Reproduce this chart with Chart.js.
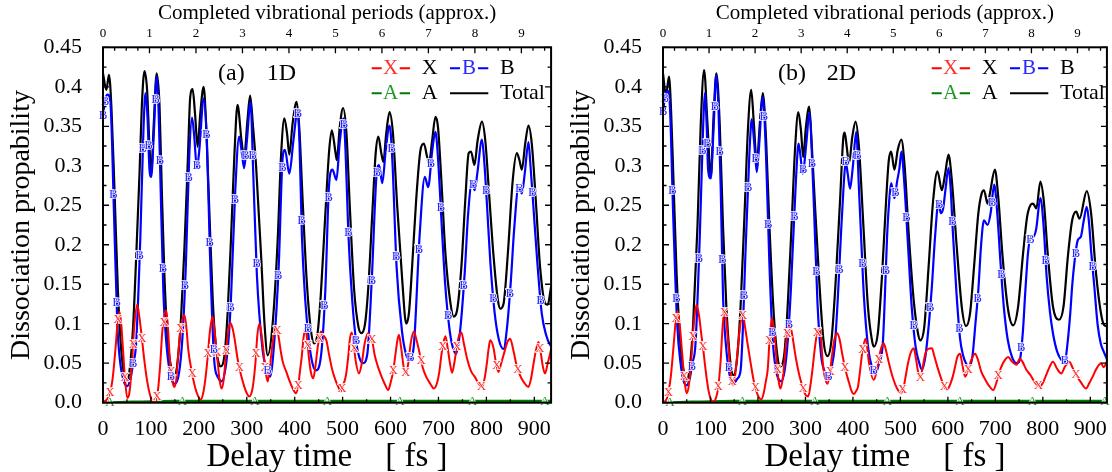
<!DOCTYPE html>
<html>
<head>
<meta charset="utf-8">
<script src="https://cdn.jsdelivr.net/npm/chart.js@4.4.1/dist/chart.umd.min.js"></script>
<style>
body { margin: 0; background: #fff; }
#wrap { position: relative; width: 1112px; height: 472px; }
canvas { position: absolute; top: 0; }
#c1 { left: 0; }
#c2 { left: 556px; }
</style>
</head>
<body>
<div id="wrap">
<canvas id="c1" width="556" height="472"></canvas>
<canvas id="c2" width="556" height="472"></canvas>
</div>
<script>
// axis ranges
const xMax = 935        // fs
const periodFs = 97     // fs per vibrational period (top axis)
const yMax = 0.45

// ---- panel (a) 1D : [delay fs, probability]
const total1D = [[0,.417],[7,.396],[12.5,.415],[17.5,.375],[24,.269],[31,.143],[38,.067],[45,.033],[50.6,.028],[55.4,.041],[62.4,.092],[69.3,.185],[76.2,.290],[81,.375],[86.6,.420],[92,.396],[97,.324],[100.5,.290],[106,.354],[112,.417],[118,.375],[122.7,.269],[128,.164],[135,.079],[143.5,.041],[149,.035],[156,.054],[163,.109],[170,.197],[177,.307],[182,.387],[187,.397],[192,.366],[197.5,.324],[203,.366],[210,.400],[215,.354],[222,.240],[229,.130],[235.6,.071],[242.5,.048],[246,.046],[253,.058],[260,.113],[267,.206],[274,.311],[280.7,.377],[289,.332],[294.5,.311],[301.5,.358],[307,.389],[313,.350],[319.5,.299],[330,.185],[337,.100],[343.7,.060],[354,.100],[364.5,.206],[371.4,.311],[378.4,.360],[384,.341],[388.8,.314],[395.7,.354],[404,.381],[409.5,.349],[416.5,.257],[425,.155],[433.8,.092],[440.7,.075],[447.7,.088],[454.6,.138],[463.6,.235],[472,.320],[477.5,.345],[484.4,.320],[487.9,.307],[494,.349],[501,.373],[508,.341],[515,.248],[524,.143],[533,.096],[539,.088],[546.8,.100],[553.7,.147],[562,.240],[569,.316],[574.5,.337],[580.7,.316],[585,.305],[591,.341],[598,.368],[605,.341],[614,.248],[624.4,.155],[632.7,.100],[638.3,.113],[645,.172],[653.5,.257],[662.5,.320],[669.5,.328],[676.4,.311],[680,.303],[686.8,.332],[693.7,.362],[699,.349],[706,.282],[714.5,.189],[725,.126],[731.8,.109],[738.8,.117],[747.8,.172],[756,.257],[763,.316],[768,.318],[775,.301],[781.7,.332],[790.7,.356],[797.7,.332],[806,.261],[815,.185],[824,.130],[829,.119],[836,.126],[844.8,.189],[855,.282],[863.5,.316],[869,.307],[874,.295],[881,.328],[887.8,.351],[894.7,.328],[903,.257],[912,.172],[922.4,.126],[928,.124],[935,.147]]

const b1D = [[0,.364],[5,.385],[10,.39],[16,.375],[23,.238],[30,.098],[36,.05],[43,.028],[50.6,.021],[57,.03],[63,.05],[69,.074],[78,.211],[84.5,.347],[88.7,.392],[93,.36],[97,.295],[100.5,.286],[106,.34],[112,.413],[116,.37],[120,.278],[126,.14],[133,.07],[142,.032],[150.4,.024],[159,.039],[166,.085],[173,.176],[180,.313],[185.7,.361],[190,.34],[196,.297],[201,.32],[210,.385],[217,.328],[223,.192],[232,.054],[240,.032],[248,.027],[256,.045],[262,.08],[267,.131],[276,.269],[284,.337],[289,.32],[294.5,.297],[300,.33],[308,.381],[313,.30],[321,.163],[333,.067],[340,.045],[348.6,.033],[357.6,.079],[366.6,.172],[375,.311],[379.7,.32],[388.8,.29],[397,.33],[406,.37],[410,.33],[415,.212],[422,.13],[430.3,.075],[437,.05],[444,.041],[454.6,.058],[463.6,.138],[472,.278],[478.8,.295],[487,.282],[494,.33],[501.7,.36],[506,.32],[512,.214],[520,.13],[528.7,.075],[535,.057],[542.6,.05],[551.6,.062],[560.6,.153],[571,.29],[576,.301],[582.8,.278],[590,.32],[598,.351],[603.6,.309],[612.6,.172],[624,.09],[632,.062],[639.7,.054],[648.7,.073],[660.5,.21],[671.6,.286],[678.5,.273],[686.8,.318],[693.7,.343],[699,.31],[706.2,.231],[714,.15],[722.8,.094],[729,.072],[736.7,.062],[745,.09],[754.7,.164],[762,.24],[770,.28],[775.5,.269],[781,.29],[790.7,.333],[795,.31],[801,.253],[808,.18],[817,.115],[826,.08],[835.8,.068],[843,.095],[851,.154],[858,.22],[867,.273],[874,.265],[880,.29],[887.8,.33],[892,.3],[898,.249],[906,.18],[915.5,.113],[925,.085],[933,.073],[935,.072]]

const x1D = [[0,.001],[8,.004],[14,.011],[20,.03],[26,.068],[31,.105],[34.6,.115],[38,.1],[42,.065],[46,.03],[50.6,.006],[55,.012],[60,.045],[65,.095],[71.4,.124],[76,.108],[80,.088],[86,.055],[92,.028],[98,.01],[104,.001],[109,0],[114,.012],[119,.045],[124,.092],[131.7,.117],[135,.1],[139,.06],[144,.03],[149,.02],[153,.03],[157,.062],[163,.098],[170,.111],[174,.095],[178,.067],[185,.04],[192,.02],[198,.009],[204,.004],[209,.012],[213,.027],[218,.055],[223,.09],[228.7,.109],[233,.09],[238,.06],[243,.03],[247.4,.018],[252,.03],[257,.065],[261,.09],[265.4,.101],[270,.095],[274,.083],[281,.055],[288,.035],[295,.02],[300,.012],[305,.008],[312,.018],[318,.05],[322,.085],[326.4,.1],[330,.09],[334,.07],[339,.04],[343.7,.027],[347,.04],[350,.055],[355,.08],[361,.096],[366,.085],[371,.065],[375,.052],[382,.04],[389,.028],[396,.018],[402.6,.012],[407,.02],[411,.04],[415,.06],[418,.08],[422,.094],[426,.08],[430,.055],[434,.038],[438.7,.031],[443,.045],[448,.07],[454.6,.09],[460,.085],[466,.079],[472,.06],[479,.04],[486,.027],[491,.02],[496,.014],[501,.022],[507,.035],[512,.06],[515,.08],[519,.089],[523,.075],[527,.054],[534.3,.037],[540,.05],[546,.075],[553,.088],[557,.085],[561,.081],[567,.06],[574,.045],[580,.035],[587,.025],[595.3,.016],[600,.025],[605,.038],[610,.06],[614,.078],[617.5,.086],[622,.07],[628,.043],[632.7,.037],[637,.05],[642,.075],[648.7,.09],[654,.08],[660.5,.063],[667,.045],[675,.032],[683,.024],[690.3,.018],[697,.025],[702,.04],[706,.06],[710,.075],[714.5,.084],[719,.07],[724,.05],[728.4,.038],[733,.05],[738,.07],[743,.085],[747.8,.089],[753,.075],[760,.055],[768,.04],[775.5,.033],[783,.025],[790.7,.02],[796,.03],[801,.05],[805,.07],[808,.079],[815,.069],[820,.05],[825.4,.039],[831,.05],[838,.065],[844,.077],[849.7,.081],[855,.07],[862,.05],[870,.035],[878,.026],[887.8,.02],[893,.03],[898,.048],[903,.065],[908.6,.077],[913,.065],[918,.045],[922.4,.037],[928,.05],[933,.062],[935,.068]]

const a1D = [[0,0],[60,.001],[150,.002],[300,.002],[450,.002],[600,.002],[750,.002],[935,.002]]

// ---- panel (b) 2D
const total2D = [[0,.417],[6.3,.389],[12.6,.413],[17,.37],[21.6,.290],[28.6,.164],[37.7,.067],[46,.033],[49.6,.028],[56.6,.046],[63.5,.100],[72.6,.223],[79.6,.354],[86.6,.421],[93.6,.354],[100.6,.286],[106.8,.366],[112.4,.417],[119.4,.354],[126.4,.223],[133.4,.122],[142.5,.048],[148.7,.035],[155.7,.054],[163.4,.122],[171.8,.240],[178.8,.345],[185.8,.396],[191.3,.354],[197.6,.303],[204,.354],[210.2,.392],[217.2,.332],[224.2,.223],[233.2,.113],[241.6,.056],[247.2,.046],[255.6,.062],[262.6,.122],[271,.227],[278,.320],[285,.368],[290.5,.345],[295.4,.311],[301,.349],[308,.375],[313,.33],[318.4,.269],[329,.155],[338,.079],[346.4,.059],[354.8,.079],[363.8,.155],[373,.257],[380,.337],[382.7,.342],[387,.324],[391.8,.303],[398.8,.337],[405.7,.356],[412.7,.324],[421.8,.227],[431.6,.122],[440.7,.077],[444.1,.071],[452.5,.088],[461.6,.164],[470,.257],[475.6,.307],[480.5,.318],[487.4,.295],[494.4,.320],[502,.333],[509,.299],[517.5,.214],[528,.130],[537,.088],[542,.079],[550.3,.096],[559.4,.172],[568.4,.252],[578,.293],[587.3,.269],[594.3,.290],[601.3,.314],[608.3,.282],[618.7,.197],[629.5,.120],[638.3,.097],[646.7,.113],[655.1,.172],[664.2,.240],[671.2,.265],[676,.269],[683.7,.252],[688.6,.265],[699,.295],[706,.261],[715.2,.185],[727,.117],[737.5,.098],[748,.122],[758.4,.189],[766.8,.235],[773.8,.250],[779.4,.252],[786.4,.246],[794.8,.280],[801.7,.257],[810.8,.185],[821.3,.122],[833.9,.105],[843.6,.122],[852.7,.185],[861.8,.231],[870.2,.242],[877.2,.233],[892.5,.268],[901.6,.240],[912,.164],[922.5,.113],[929.5,.098],[935,.097]]

const b2D = [[0,.368],[5,.39],[10,.395],[14.7,.373],[21.6,.235],[30,.098],[37,.05],[43,.028],[49.6,.022],[56,.03],[62,.05],[68.4,.074],[77.5,.211],[84.5,.349],[88,.392],[92,.35],[95,.295],[100.6,.284],[106,.34],[112.4,.415],[117,.37],[121.5,.273],[126.4,.136],[133,.07],[141,.033],[148.7,.024],[156,.03],[163.4,.041],[168,.09],[173,.178],[182,.316],[187,.359],[192,.33],[197.6,.292],[201.8,.32],[210.2,.387],[217,.313],[224,.178],[231,.08],[238,.041],[243,.03],[248.6,.027],[256,.04],[263,.08],[269.5,.145],[280,.282],[285.6,.328],[290,.31],[294,.29],[302.4,.332],[308,.367],[317,.263],[325.4,.126],[333,.06],[340,.04],[347.8,.032],[355,.045],[361.7,.071],[368,.13],[374.3,.207],[380,.27],[384.8,.305],[389,.29],[393.9,.271],[400,.3],[407,.343],[412.7,.271],[418,.2],[423.2,.134],[432,.07],[440,.045],[447.6,.037],[455,.05],[463,.075],[467,.13],[472,.211],[477,.26],[480.5,.278],[487.4,.259],[493,.28],[498,.297],[502,.318],[508,.28],[515.4,.206],[524,.12],[532,.071],[539,.052],[545.4,.042],[553,.06],[560,.1],[566.4,.148],[573,.21],[580.3,.254],[585,.24],[590,.246],[595,.27],[601.3,.297],[606,.27],[610.3,.218],[618,.14],[625.7,.081],[632,.06],[638,.05],[645.3,.046],[652,.06],[658,.1],[664.2,.143],[670,.2],[676,.231],[683.7,.225],[690,.24],[697.7,.276],[704,.24],[711,.176],[718,.12],[726,.08],[735,.058],[744.5,.05],[751.5,.054],[758,.09],[763,.14],[769,.191],[775,.21],[779.4,.21],[786,.22],[794.8,.259],[801.7,.223],[808,.16],[815,.115],[821.3,.088],[830,.065],[838,.055],[845.7,.05],[852,.075],[858,.115],[861.8,.148],[867,.18],[873.7,.206],[880,.21],[886,.23],[892.5,.248],[897,.23],[902,.19],[908,.15],[915.6,.098],[922,.075],[928,.065],[935,.055]]

const x2D = [[0,0],[8,.005],[12,.015],[16.8,.035],[22,.07],[27,.105],[30.7,.116],[35,.1],[40,.065],[45,.03],[49.6,.012],[54,.02],[59,.05],[65,.1],[70.5,.124],[76,.11],[80,.09],[84.5,.069],[90,.04],[96,.015],[101,.004],[105.4,.001],[111,.005],[116,.018],[121,.05],[126,.1],[130,.117],[134,.1],[138,.07],[143,.035],[147.3,.022],[152,.035],[157,.065],[163,.1],[168.3,.111],[173,.095],[178,.075],[184.4,.051],[191,.028],[198,.012],[206.7,.004],[212,.012],[216,.025],[220.7,.043],[225,.085],[229.7,.107],[234,.09],[239,.055],[243,.03],[247.2,.018],[252,.03],[257,.06],[262,.09],[266,.098],[271,.09],[275,.075],[280,.056],[287,.035],[295,.018],[300,.01],[305.9,.008],[310,.02],[315,.043],[320,.07],[325,.09],[329,.094],[333,.08],[336,.055],[340,.035],[346.4,.024],[351,.035],[356,.06],[361,.08],[367.3,.088],[372,.08],[378,.06],[385,.04],[392,.025],[397,.015],[402.2,.011],[407,.015],[410.6,.02],[415,.04],[420,.065],[426.7,.081],[430,.07],[433.7,.051],[444.1,.029],[450,.04],[456,.06],[460,.07],[465,.075],[469,.068],[472,.06],[478,.045],[485,.03],[493,.018],[501.4,.012],[507,.02],[511,.033],[515.4,.048],[521,.062],[528,.069],[533,.055],[537,.04],[542,.032],[547,.045],[552.4,.062],[558,.068],[566.4,.069],[571,.06],[578,.045],[585,.032],[591,.022],[597.8,.016],[604,.022],[610.3,.033],[615,.045],[620,.058],[625.7,.062],[630,.05],[636.2,.033],[642,.04],[648,.052],[657.2,.062],[663,.055],[670,.04],[678,.03],[686,.022],[695.6,.016],[702,.025],[708,.038],[715.2,.049],[721,.055],[727,.058],[735,.052],[744.5,.048],[751.5,.056],[757,.052],[765,.042],[773.8,.035],[783,.026],[793.4,.02],[800,.025],[807,.035],[814,.045],[821.3,.052],[830,.043],[838.8,.037],[846,.045],[856,.052],[862,.045],[870,.035],[880,.026],[891,.018],[898,.025],[905,.033],[912,.042],[917,.047],[922.5,.05],[928,.045],[935,.052]]

const a2D = [[0,0],[60,.001],[150,.002],[300,.002],[450,.002],[600,.002],[750,.002],[935,.002]]

const red = '#ff0000', blue = '#0000ff', green = '#007d00'
const serif = '"Liberation Serif", "Times New Roman", serif'
Chart.defaults.font.family = serif
Chart.defaults.color = '#000'

// letters along each curve, spaced by arc length in pixels
const letterMarks = {
    id: 'letterMarks',
    afterDatasetsDraw(chart) {
        const ctx = chart.ctx
        chart.data.datasets.forEach((ds, i) => {
            if (!ds.mark) return
            const pts = chart.getDatasetMeta(i).data
            ctx.save()
            ctx.font = '13px ' + serif
            ctx.textAlign = 'center'
            ctx.textBaseline = 'middle'
            ctx.fillStyle = ds.markColor
            ctx.strokeStyle = '#fff'
            ctx.lineWidth = 1.5
            const put = (x, y) => { ctx.strokeText(ds.mark, x, y); ctx.fillText(ds.mark, x, y) }
            if (ds.markFirst) put(pts[0].x, pts[0].y)
            let next = ds.markStart, run = 0
            for (let k = 1; k < pts.length; k++) {
                const a = pts[k - 1], b = pts[k]
                const seg = Math.hypot(b.x - a.x, b.y - a.y)
                while (next <= run + seg) {
                    const f = seg ? (next - run) / seg : 0
                    put(a.x + (b.x - a.x) * f, a.y + (b.y - a.y) * f)
                    next += ds.markGap
                }
                run += seg
            }
            ctx.restore()
        })
    }
}

// box, inward ticks, legend and panel tag
const frame = {
    id: 'frame',
    afterDraw(chart) {
        const {ctx, chartArea: ca, scales} = chart
        ctx.save()
        ctx.strokeStyle = '#000'
        ctx.lineWidth = 1.3
        ctx.beginPath()
        for (let t = 0; t <= xMax; t += 50) {
            const px = scales.x.getPixelForValue(t)
            const len = t % 100 === 0 ? 6 : 3.5
            ctx.moveTo(px, ca.bottom); ctx.lineTo(px, ca.bottom - len)
        }
        for (let k = 0; k * 0.25 <= scales.top.max; k++) {
            const px = scales.top.getPixelForValue(k * 0.25)
            const len = k % 4 === 0 ? 6 : 3.5
            ctx.moveTo(px, ca.top); ctx.lineTo(px, ca.top + len)
        }
        for (let k = 0; k <= 18; k++) {
            const py = scales.y.getPixelForValue(k * 0.025)
            const len = k % 2 === 0 ? 6 : 3.5
            ctx.moveTo(ca.left, py); ctx.lineTo(ca.left + len, py)
            ctx.moveTo(ca.right, py); ctx.lineTo(ca.right - len, py)
        }
        ctx.stroke()
        ctx.lineWidth = 2
        ctx.strokeRect(ca.left, ca.top, ca.right - ca.left, ca.bottom - ca.top)

        // legend 2 x 2
        const byLabel = {}
        chart.data.datasets.forEach(ds => byLabel[ds.label] = ds)
        const items = [['X', 0, 0], ['B', 1, 0], ['A', 0, 1], ['Total', 1, 1]]
        ctx.textBaseline = 'middle'
        items.forEach(([lab, col, row]) => {
            const ds = byLabel[lab]
            const x0 = ca.left + (col ? 347 : 268.7)
            const y = ca.top + (row ? 46 : 21)
            ctx.strokeStyle = ds.borderColor
            ctx.lineWidth = 2
            ctx.beginPath()
            if (ds.mark) {
                ctx.moveTo(x0, y); ctx.lineTo(x0 + 10, y)
                ctx.moveTo(x0 + 28, y); ctx.lineTo(x0 + 38.3, y)
            } else {
                ctx.moveTo(x0, y); ctx.lineTo(x0 + 38.3, y)
            }
            ctx.stroke()
            if (ds.mark) {
                ctx.fillStyle = ds.markColor
                ctx.font = '21px ' + serif
                ctx.textAlign = 'center'
                ctx.fillText(ds.mark, x0 + 19, y)
            }
            ctx.fillStyle = '#000'
            ctx.font = '22px ' + serif
            ctx.textAlign = 'left'
            ctx.fillText(lab, x0 + 50, y)
        })

        const tag = chart.options.plugins.frame
        ctx.font = '24px ' + serif
        ctx.fillText(tag.tag, ca.left + 115, ca.top + 26)
        ctx.fillText(tag.dim, ca.left + 163.7, ca.top + 26)
        ctx.restore()
    }
}

function makePanel(id, tag, dim, leftW, rightPad, titlePad, sets) {
    const line = (label, pairs, color, width, mark, extra) => Object.assign({
        label: label,
        data: pairs.map(p => ({x: p[0], y: p[1]})),
        borderColor: color,
        borderWidth: width,
        pointRadius: 0,
        cubicInterpolationMode: 'monotone',
        mark: mark,
        markColor: color
    }, extra)

    return new Chart(id, {
        type: 'line',
        data: {
            datasets: [
                line('X', sets.x, red, 2, 'X', {markStart: 12, markGap: 74, markColor: '#ff3030'}),
                line('A', sets.a, green, 2.6, 'A', {markStart: 7, markGap: 72.5, markColor: '#229922'}),
                line('B', sets.b, blue, 2.2, 'B', {markFirst: true, markStart: 14, markGap: 108, markColor: '#2a2aff'}),
                line('Total', sets.total, '#000', 2.2, null)
            ]
        },
        options: {
            responsive: false,
            animation: false,
            devicePixelRatio: 1,
            layout: {padding: {left: 0, right: rightPad, top: 0, bottom: 0}},
            plugins: {
                legend: {display: false},
                tooltip: {enabled: false},
                frame: {tag: tag, dim: dim}
            },
            scales: {
                x: {
                    type: 'linear', position: 'bottom', min: 0, max: xMax,
                    grid: {display: false}, border: {display: false},
                    ticks: {stepSize: 100, includeBounds: false, autoSkip: false, maxRotation: 0,
                            padding: 5, font: {size: 22}, color: '#000'},
                    title: {display: true, text: 'Delay time    [ fs ]', color: '#000',
                            font: {size: 33, lineHeight: 1}, padding: {top: 0, bottom: -2}},
                    afterFit(s) { s.height = 69.3 }
                },
                top: {
                    type: 'linear', position: 'top', min: 0, max: xMax / periodFs,
                    grid: {display: false}, border: {display: false},
                    ticks: {stepSize: 1, includeBounds: false, autoSkip: false, maxRotation: 0,
                            padding: -2.5, font: {size: 13}, color: '#000'},
                    title: {display: true, text: 'Completed vibrational periods (approx.)', color: '#000',
                            font: {size: 21, lineHeight: 1}, padding: {top: 2.5, bottom: 0}},
                    afterFit(s) { s.height = 47.3 }
                },
                y: {
                    type: 'linear', min: 0, max: yMax,
                    grid: {display: false}, border: {display: false},
                    ticks: {stepSize: 0.05, autoSkip: false, padding: 13, font: {size: 22}, color: '#000',
                            callback: v => v === 0 ? '0.0' : String(Math.round(v * 100) / 100)},
                    title: {display: true, text: 'Dissociation propability', color: '#000',
                            font: {size: 28, lineHeight: 1}, padding: {top: titlePad, bottom: 0}},
                    afterFit(s) { s.width = leftW }
                }
            }
        },
        plugins: [letterMarks, frame]
    })
}

makePanel('c1', '(a)', '1D', 103, 3.3, 8, {x: x1D, a: a1D, b: b1D, total: total1D})
makePanel('c2', '(b)', '2D', 107, 2.7, 12, {x: x2D, a: a2D, b: b2D, total: total2D})
</script>
</body>
</html>
